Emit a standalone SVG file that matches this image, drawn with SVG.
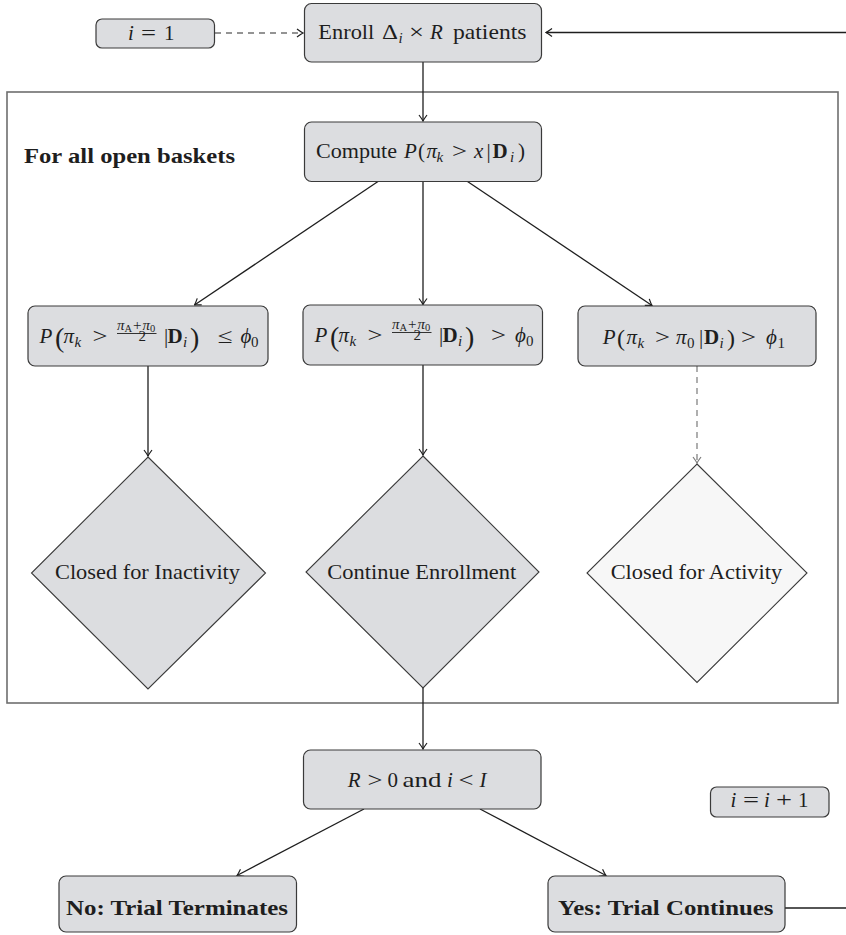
<svg xmlns="http://www.w3.org/2000/svg" width="846" height="935" viewBox="0 0 846 935">
<defs>
<style>
.box{fill:#dcdde0;stroke:#3a3a3a;stroke-width:1.2}
.dia{fill:#dcdde0;stroke:#3a3a3a;stroke-width:1.1}
.dia2{fill:#f7f7f7;stroke:#3a3a3a;stroke-width:1.1}
.frame{fill:none;stroke:#6e6e6e;stroke-width:1.6}
.c{fill:none;stroke:#1e1e1e;stroke-width:1.3}
.cd{fill:none;stroke:#2a2a2a;stroke-width:1.2;stroke-dasharray:6 5}
.cg{fill:none;stroke:#7a7a7a;stroke-width:1.2;stroke-dasharray:6 5}
.bar{stroke:#1e1e1e;stroke-width:0.9}
text{font-family:"Liberation Serif","DejaVu Serif",serif;font-size:21px;fill:#1e1e1e}
.i{font-style:italic}
.b{font-weight:bold}
.bt{font-weight:bold;font-size:22px}
.s{font-size:15px}
.ss{font-size:10.5px}
.big{font-size:28px}
.med{font-size:24px}
</style>
<marker id="ah" viewBox="-7 -5 8 10" markerWidth="8" markerHeight="10" refX="0" refY="0" orient="auto" markerUnits="userSpaceOnUse">
<path d="M-6,-4 Q-2,-1 0,0 Q-2,1 -6,4" fill="none" stroke="#1e1e1e" stroke-width="1.2"/>
</marker>
<marker id="ahg" viewBox="-7 -5 8 10" markerWidth="8" markerHeight="10" refX="0" refY="0" orient="auto" markerUnits="userSpaceOnUse">
<path d="M-6,-4 Q-2,-1 0,0 Q-2,1 -6,4" fill="none" stroke="#7a7a7a" stroke-width="1.2"/>
</marker>
</defs>
<rect width="846" height="935" fill="#ffffff"/>

<g id="frame">
<rect class="frame" x="7" y="92" width="831" height="611"/>
<text class="bt" x="24" y="163" textLength="211" lengthAdjust="spacingAndGlyphs">For all open baskets</text>
</g>

<g id="connectors">
<line class="cd" x1="215" y1="33" x2="303" y2="33" marker-end="url(#ah)"/>
<line class="c" x1="847" y1="32.5" x2="546" y2="32.5" marker-end="url(#ah)" style="stroke-width:1.6"/>
<line class="c" x1="423" y1="62" x2="423" y2="121" marker-end="url(#ah)"/>
<line class="c" x1="378" y1="181.5" x2="194.5" y2="305" marker-end="url(#ah)"/>
<line class="c" x1="423" y1="181.5" x2="423" y2="304.5" marker-end="url(#ah)"/>
<line class="c" x1="467.5" y1="181.5" x2="652" y2="305.5" marker-end="url(#ah)"/>
<line class="c" x1="148" y1="366" x2="148" y2="456" marker-end="url(#ah)"/>
<line class="c" x1="423" y1="365" x2="423" y2="455" marker-end="url(#ah)"/>
<line class="cg" x1="697" y1="366" x2="697" y2="463" marker-end="url(#ahg)"/>
<line class="c" x1="423" y1="688" x2="423" y2="749" marker-end="url(#ah)"/>
<line class="c" x1="364" y1="809" x2="237" y2="875.5" marker-end="url(#ah)"/>
<line class="c" x1="480" y1="809" x2="606" y2="875.5" marker-end="url(#ah)"/>
<line class="c" x1="785" y1="908" x2="847" y2="908"/>
</g>

<g id="n_i1">
<rect class="box" x="96" y="19" width="118.5" height="29" rx="6"/>
<text class="i" x="128" y="40">i</text>
<text x="141" y="40" textLength="15" lengthAdjust="spacingAndGlyphs">=</text>
<text x="164" y="40">1</text>
</g>

<g id="n_enroll">
<rect class="box" x="304.5" y="3.5" width="237" height="58.5" rx="7"/>
<text x="318.3" y="39" textLength="56" lengthAdjust="spacingAndGlyphs">Enroll</text>
<text x="382" y="39" textLength="16" lengthAdjust="spacingAndGlyphs">Δ</text>
<text class="i s" x="398.5" y="43">i</text>
<text x="409" y="39" textLength="15" lengthAdjust="spacingAndGlyphs">×</text>
<text class="i" x="430" y="39">R</text>
<text x="453" y="39" textLength="73.5" lengthAdjust="spacingAndGlyphs">patients</text>
</g>

<g id="n_compute">
<rect class="box" x="304.5" y="122" width="237" height="59.5" rx="7"/>
<text x="316" y="158" textLength="81" lengthAdjust="spacingAndGlyphs">Compute</text>
<text class="i" x="404" y="158">P</text>
<text x="418" y="158">(</text>
<text class="i" x="426.5" y="158">π</text>
<text class="i s" x="436.5" y="162">k</text>
<text x="452" y="158" textLength="15" lengthAdjust="spacingAndGlyphs">&gt;</text>
<text class="i" x="474" y="158">x</text>
<text x="486.5" y="158">|</text>
<text class="b" x="492.5" y="158">D</text>
<text class="i s" x="510" y="162">i</text>
<text x="518" y="158">)</text>
</g>

<g id="n_inactive_cond">
<rect class="box" x="28" y="306" width="240" height="60" rx="7"/>
<text class="i" x="39.5" y="343">P</text>
<text class="big" x="55" y="347">(</text>
<text class="i" x="63.5" y="343">π</text>
<text class="i s" x="74.5" y="347">k</text>
<text x="92.5" y="343" textLength="15" lengthAdjust="spacingAndGlyphs">&gt;</text>
<text class="s"><tspan x="117" y="330" class="i">π</tspan><tspan class="ss" dy="2">A</tspan><tspan dy="-2" dx="1">+</tspan><tspan class="i" dx="1">π</tspan><tspan class="ss" dy="2">0</tspan><tspan x="138.5" y="341">2</tspan></text>
<line class="bar" x1="117" y1="333.5" x2="156.5" y2="333.5"/>
<text x="164" y="343">|</text>
<text class="b" x="167.5" y="343">D</text>
<text class="i s" x="183" y="347">i</text>
<text class="big" x="190" y="347">)</text>
<text x="217.5" y="343" textLength="15" lengthAdjust="spacingAndGlyphs">≤</text>
<text class="i" x="240.5" y="343">ϕ</text>
<text class="s" x="251" y="347">0</text>
</g>

<g id="n_continue_cond">
<rect class="box" x="303" y="305" width="239.5" height="60" rx="7"/>
<text class="i" x="314.5" y="342">P</text>
<text class="big" x="330" y="346">(</text>
<text class="i" x="338.5" y="342">π</text>
<text class="i s" x="349.5" y="346">k</text>
<text x="367.5" y="342" textLength="15" lengthAdjust="spacingAndGlyphs">&gt;</text>
<text class="s"><tspan x="392" y="329" class="i">π</tspan><tspan class="ss" dy="2">A</tspan><tspan dy="-2" dx="1">+</tspan><tspan class="i" dx="1">π</tspan><tspan class="ss" dy="2">0</tspan><tspan x="413.5" y="340">2</tspan></text>
<line class="bar" x1="392" y1="332.5" x2="431.5" y2="332.5"/>
<text x="439" y="342">|</text>
<text class="b" x="442.5" y="342">D</text>
<text class="i s" x="458" y="346">i</text>
<text class="big" x="465" y="346">)</text>
<text x="491" y="342" textLength="15" lengthAdjust="spacingAndGlyphs">&gt;</text>
<text class="i" x="515" y="342">ϕ</text>
<text class="s" x="526" y="346">0</text>
</g>

<g id="n_active_cond">
<rect class="box" x="578" y="306" width="238" height="60" rx="7"/>
<text class="i" x="602.7" y="344">P</text>
<text class="med" x="617" y="346">(</text>
<text class="i" x="626.5" y="344">π</text>
<text class="i s" x="637.5" y="348">k</text>
<text x="655" y="344" textLength="15" lengthAdjust="spacingAndGlyphs">&gt;</text>
<text class="i" x="676" y="344">π</text>
<text class="s" x="687" y="348">0</text>
<text x="699" y="344">|</text>
<text class="b" x="704" y="344">D</text>
<text class="i s" x="719.5" y="348">i</text>
<text class="med" x="727" y="346">)</text>
<text x="741" y="344" textLength="15" lengthAdjust="spacingAndGlyphs">&gt;</text>
<text class="i" x="766" y="344">ϕ</text>
<text class="s" x="777.5" y="348">1</text>
</g>

<g id="n_closed_inactivity">
<polygon class="dia" points="148,457 265.5,573 148,689 31.5,573"/>
<text x="55" y="579" textLength="185" lengthAdjust="spacingAndGlyphs">Closed for Inactivity</text>
</g>

<g id="n_continue">
<polygon class="dia" points="423,456 539,572 423,688 306,572"/>
<text x="327.3" y="579" textLength="189" lengthAdjust="spacingAndGlyphs">Continue Enrollment</text>
</g>

<g id="n_closed_activity">
<polygon class="dia2" points="697,464 807,573 697,682.5 587,573"/>
<text x="610.7" y="579" textLength="171.5" lengthAdjust="spacingAndGlyphs">Closed for Activity</text>
</g>

<g id="n_check">
<rect class="box" x="303.5" y="750" width="237.5" height="59" rx="7"/>
<text class="i" x="347.7" y="787">R</text>
<text x="367.5" y="787" textLength="15" lengthAdjust="spacingAndGlyphs">&gt;</text>
<text x="387.5" y="787">0</text>
<text x="402.5" y="787" textLength="39" lengthAdjust="spacingAndGlyphs">and</text>
<text class="i" x="447" y="787">i</text>
<text x="458.5" y="787" textLength="15" lengthAdjust="spacingAndGlyphs">&lt;</text>
<text class="i" x="479.5" y="787">I</text>
</g>

<g id="n_increment">
<rect class="box" x="710.5" y="787" width="118.5" height="30" rx="6"/>
<text class="i" x="730.5" y="807">i</text>
<text x="743" y="807" textLength="16" lengthAdjust="spacingAndGlyphs">=</text>
<text class="i" x="764" y="807">i</text>
<text x="776" y="807" textLength="16" lengthAdjust="spacingAndGlyphs">+</text>
<text x="798" y="807">1</text>
</g>

<g id="n_no">
<rect class="box" x="59" y="876" width="237.5" height="56" rx="7"/>
<text class="bt" x="66" y="915" textLength="222" lengthAdjust="spacingAndGlyphs">No: Trial Terminates</text>
</g>

<g id="n_yes">
<rect class="box" x="548" y="876" width="237" height="56" rx="7"/>
<text class="bt" x="558" y="915" textLength="215.5" lengthAdjust="spacingAndGlyphs">Yes: Trial Continues</text>
</g>
</svg>
